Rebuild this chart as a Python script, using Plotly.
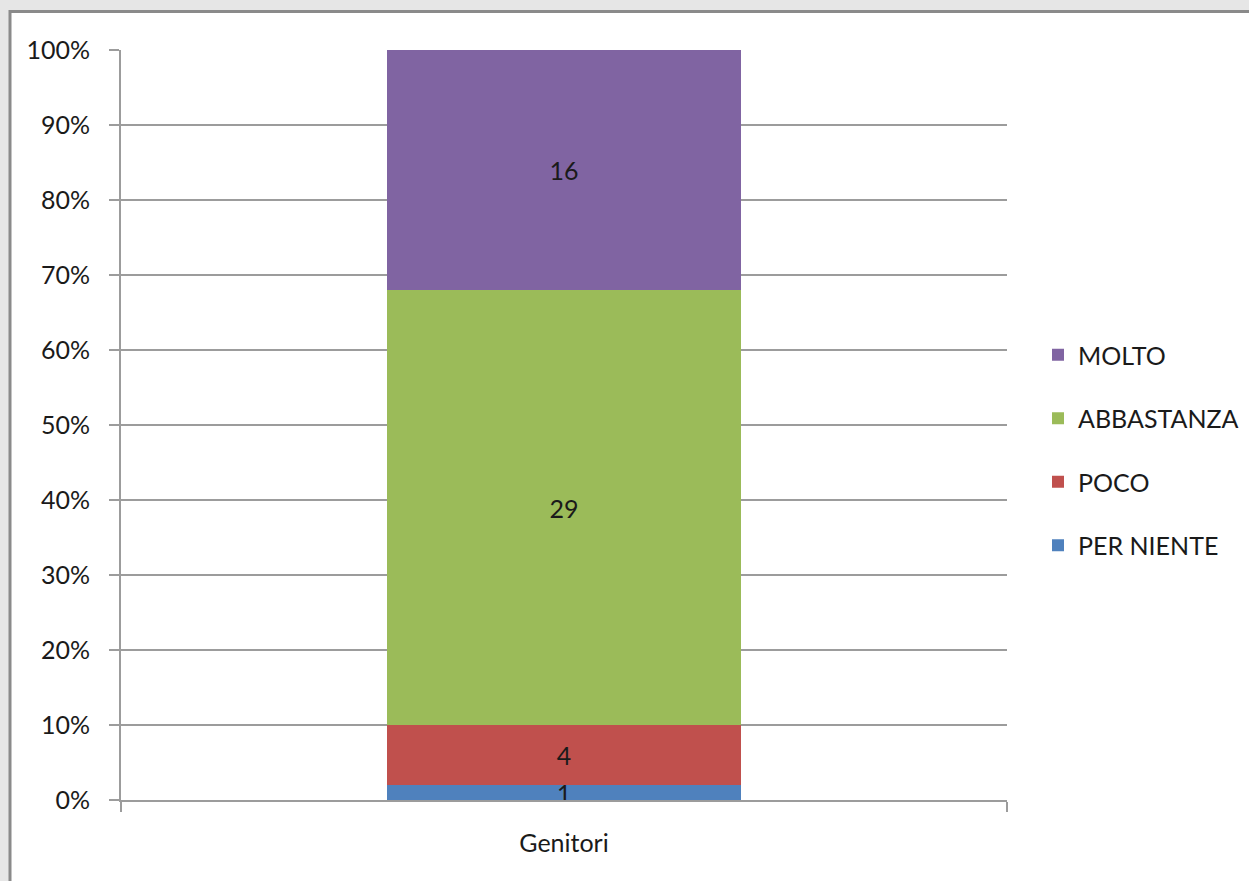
import plotly.graph_objects as go

# Survey answers for the "Genitori" group (counts per response level)
category = ["Genitori"]
levels = ["PER NIENTE", "POCO", "ABBASTANZA", "MOLTO"]
counts = [1, 4, 29, 16]
colors = ["#4F81BD", "#C0504D", "#9BBB59", "#8064A2"]
y_ticks = [i / 10 for i in range(11)]

W, H = 1249, 881
L, R, T, B = 121, 242, 50, 81
plot_w = W - L - R
plot_h = H - T - B

FONT = "Lato"
TXT = "#1a1a1a"
GRID = "#9c9c9c"

fig = go.Figure()
for i, (name, n, col) in enumerate(zip(levels, counts, colors)):
    fig.add_trace(go.Bar(
        x=category,
        y=[n],
        name=name,
        legendgroup=name,
        legendrank=len(levels) - i,   # top segment listed first
        marker=dict(color=col, line=dict(width=0)),
        width=0.4,
        text=[str(n)],
        textposition="inside",
        insidetextanchor="middle",
        textangle=0,
        textfont=dict(family=FONT, size=25, color=TXT),
        hoverinfo="skip",
    ))


def px_x(px):
    return (px - L) / plot_w


def px_y(py):
    return (H - B - py) / plot_h


fig.update_layout(
    width=W,
    height=H,
    margin=dict(l=L, r=R, t=T, b=B, pad=0, autoexpand=False),
    barmode="stack",
    barnorm="fraction",
    paper_bgcolor="#e6e6e6",
    plot_bgcolor="white",
    font=dict(family=FONT, size=25, color=TXT),
    uniformtext=dict(minsize=25, mode="show"),
    showlegend=True,
    legend=dict(
        x=px_x(1038), xanchor="left",
        y=px_y(450), yanchor="middle",
        traceorder="grouped",
        tracegroupgap=28,
        font=dict(family=FONT, size=25, color=TXT),
        bgcolor="rgba(0,0,0,0)",
        itemwidth=30,
    ),
    xaxis=dict(
        type="category",
        range=[-0.5, 0.5],
        tickson="boundaries",
        ticks="outside",
        ticklen=10,
        tickwidth=2,
        tickcolor=GRID,
        showline=True,
        linecolor=GRID,
        linewidth=2,
        showgrid=False,
        tickfont=dict(family=FONT, size=25, color=TXT),
        ticklabelstandoff=20,
        fixedrange=True,
    ),
    yaxis=dict(
        range=[0, 1],
        tickvals=y_ticks,
        tickformat=".0%",
        ticks="outside",
        ticklen=10,
        tickwidth=2,
        tickcolor=GRID,
        showline=True,
        linecolor=GRID,
        linewidth=2,
        showgrid=True,
        gridcolor=GRID,
        gridwidth=2,
        zeroline=False,
        tickfont=dict(family=FONT, size=25, color=TXT),
        ticklabelstandoff=14,
        fixedrange=True,
    ),
    shapes=[
        # white chart panel with a grey frame
        dict(
            type="rect", xref="paper", yref="paper", layer="below",
            x0=px_x(10), x1=px_x(W + 20),
            y0=px_y(H + 20), y1=px_y(11.5),
            fillcolor="white",
            line=dict(color="#8a8a8a", width=3),
        ),
    ],
)

fig.write_html("out.html")
